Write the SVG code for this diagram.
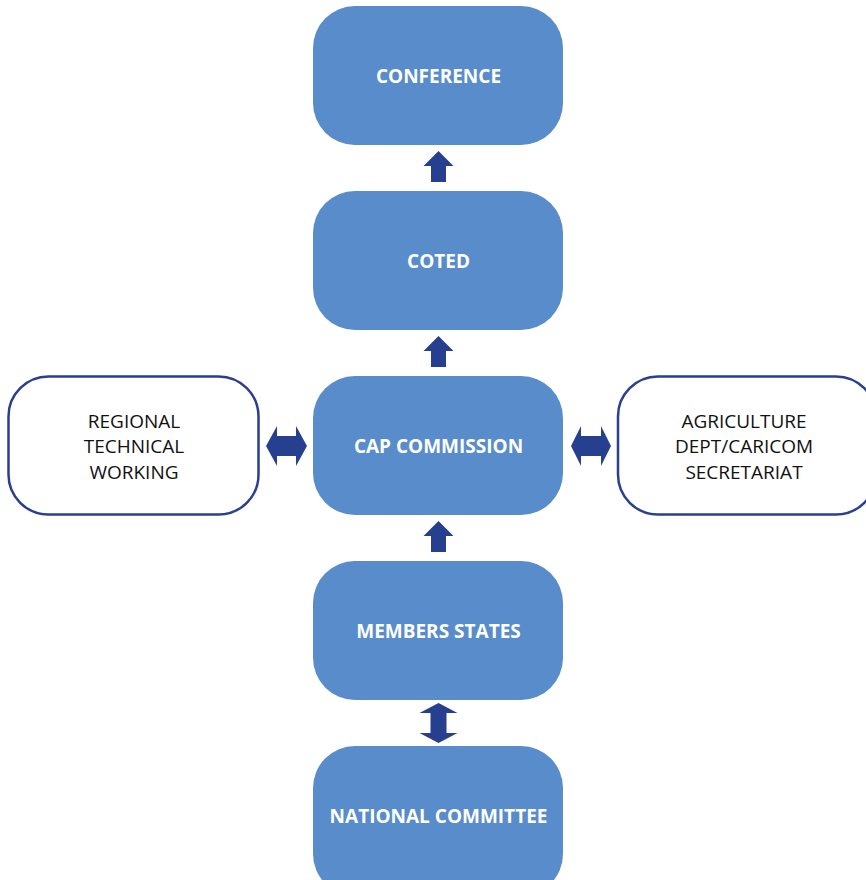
<svg xmlns="http://www.w3.org/2000/svg" width="866" height="880" viewBox="0 0 866 880">
  <style>
    .box { fill: #588cca; }
    .side { fill: #ffffff; stroke: #2a3f8f; stroke-width: 2.5; }
    .lbl { font-family: "Open Sans", "Liberation Sans", sans-serif; font-weight: bold; font-size: 19px; fill: #ffffff; text-anchor: middle; }
    .txt { font-family: "Open Sans", "Liberation Sans", sans-serif; font-size: 19px; fill: #111111; text-anchor: middle; }
    .arrow { fill: #263f8f; }
  </style>
  <defs>
    <!-- upward block arrow, tip at (0,0) -->
    <path id="up" d="M0,0 L15,15 L7.5,15 L7.5,31 L-7.5,31 L-7.5,15 L-15,15 Z"/>
  </defs>
  <rect width="866" height="880" fill="#ffffff"/>

  <g id="conference">
    <rect class="box" x="313" y="6" width="250" height="139" rx="42"/>
    <text class="lbl" x="438.5" y="82.5">CONFERENCE</text>
  </g>
  <g id="coted">
    <rect class="box" x="313" y="191" width="250" height="139" rx="42"/>
    <text class="lbl" x="438.5" y="267.5">COTED</text>
  </g>
  <g id="cap-commission">
    <rect class="box" x="313" y="376" width="250" height="139" rx="42"/>
    <text class="lbl" x="438.5" y="452.5">CAP COMMISSION</text>
  </g>
  <g id="members-states">
    <rect class="box" x="313" y="561" width="250" height="139" rx="42"/>
    <text class="lbl" x="438.5" y="637.5">MEMBERS STATES</text>
  </g>
  <g id="national-committee">
    <rect class="box" x="313" y="746" width="250" height="150" rx="42"/>
    <text class="lbl" x="438.5" y="822.5">NATIONAL COMMITTEE</text>
  </g>
  <g id="regional-technical">
    <rect class="side" x="8.5" y="376.5" width="250" height="138" rx="40"/>
    <text class="txt" x="134" y="427.5">REGIONAL</text>
    <text class="txt" x="134" y="453">TECHNICAL</text>
    <text class="txt" x="134" y="478.5">WORKING</text>
  </g>
  <g id="agriculture-dept">
    <rect class="side" x="618" y="376.5" width="258" height="138" rx="40"/>
    <text class="txt" x="744" y="427.5">AGRICULTURE</text>
    <text class="txt" x="744" y="453">DEPT/CARICOM</text>
    <text class="txt" x="744" y="478.5">SECRETARIAT</text>
  </g>

  <g id="connectors" class="arrow">
    <use href="#up" x="438.5" y="151"/>
    <use href="#up" x="438.5" y="336"/>
    <use href="#up" x="438.5" y="521"/>
    <!-- two-way vertical: members states / national committee -->
    <path d="M438.5,703 L457.5,713 L446.5,713 L446.5,733 L457.5,733 L438.5,743 L419.5,733 L430.5,733 L430.5,713 L419.5,713 Z"/>
    <!-- two-way horizontal: regional technical / cap commission -->
    <path d="M266,446 L277,426 L277,436 L296,436 L296,426 L307,446 L296,466 L296,456 L277,456 L277,466 Z"/>
    <!-- two-way horizontal: cap commission / agriculture dept -->
    <path d="M571,446 L581,426 L581,436 L601,436 L601,426 L611,446 L601,466 L601,456 L581,456 L581,466 Z"/>
  </g>
</svg>
